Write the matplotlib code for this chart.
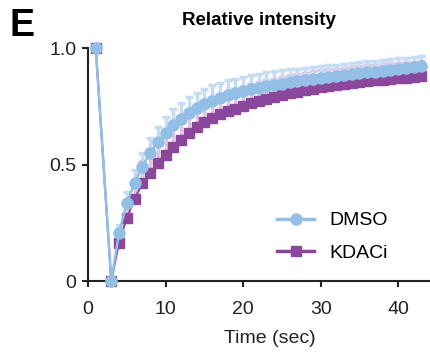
import numpy as np
import matplotlib.pyplot as plt

plt.rcParams['font.family'] = ['Liberation Sans', 'DejaVu Sans']

# tiempos (seg) y valores
tiempo = [1, 3] + list(range(4, 44))

dmso = [1.0, 0.0,
        0.207, 0.335, 0.42, 0.49, 0.55, 0.596, 0.634, 0.668, 0.694, 0.72,
        0.741, 0.758, 0.774, 0.786, 0.797, 0.806, 0.815, 0.823, 0.83, 0.836,
        0.842, 0.847, 0.852, 0.857, 0.862, 0.867, 0.871, 0.875, 0.879, 0.883,
        0.887, 0.891, 0.895, 0.899, 0.903, 0.907, 0.911, 0.914, 0.918, 0.922]
dmso_err = [0.0, 0.0,
            0.035, 0.045, 0.055, 0.06, 0.064, 0.066, 0.068, 0.069, 0.069, 0.069,
            0.068, 0.067, 0.066, 0.065, 0.064, 0.063, 0.062, 0.061, 0.06, 0.059,
            0.058, 0.057, 0.056, 0.055, 0.054, 0.053, 0.052, 0.051, 0.05, 0.05,
            0.049, 0.048, 0.048, 0.047, 0.046, 0.046, 0.045, 0.045, 0.045, 0.045]

kdaci = [1.0, 0.0,
         0.165, 0.27, 0.35, 0.42, 0.465, 0.505, 0.54, 0.574, 0.605, 0.634,
         0.66, 0.684, 0.70, 0.715, 0.728, 0.74, 0.751, 0.762, 0.772, 0.781,
         0.79, 0.797, 0.805, 0.812, 0.819, 0.826, 0.831, 0.836, 0.841, 0.846,
         0.85, 0.854, 0.858, 0.861, 0.864, 0.867, 0.87, 0.873, 0.876, 0.879]
kdaci_err = [0.0, 0.0,
             0.05, 0.07, 0.085, 0.095, 0.1, 0.1, 0.1, 0.098, 0.096, 0.094,
             0.092, 0.09, 0.088, 0.086, 0.085, 0.084, 0.083, 0.082, 0.081, 0.08,
             0.079, 0.078, 0.077, 0.076, 0.075, 0.074, 0.073, 0.072, 0.071, 0.07,
             0.07, 0.069, 0.068, 0.068, 0.067, 0.067, 0.066, 0.066, 0.065, 0.065]

azul = '#93bfe7'
azul_claro = '#c6dcf2'
morado = '#8a479c'
rosa = '#e2c6e2'

fig = plt.figure(figsize=(4.3, 3.54), dpi=100)
ax = fig.add_axes([88 / 430, 73 / 354, 342 / 430, 233 / 354])

ceros = np.zeros(len(tiempo))
ax.errorbar(tiempo, kdaci, yerr=[ceros, kdaci_err], fmt='none', ecolor=rosa,
            elinewidth=2.5, capsize=3.2, capthick=2.5, zorder=1)
ax.errorbar(tiempo, dmso, yerr=[ceros, dmso_err], fmt='none', ecolor=azul_claro,
            elinewidth=2.5, capsize=3.2, capthick=2.5, zorder=2)
ax.plot(tiempo, kdaci, color=morado, lw=1.5, marker='s', ms=7.5, mec=morado,
        label='KDACi', zorder=3, clip_on=False)
ax.plot(tiempo, dmso, color=azul, lw=1.8, marker='o', ms=8, mec=azul,
        label='DMSO', zorder=4, clip_on=False)

ax.set_xlim(0, 44.1)
ax.set_ylim(0, 1.0)
ax.set_xticks([0, 10, 20, 30, 40])
ax.set_yticks([0, 0.5, 1.0])
ax.set_yticklabels(['0', '0.5', '1.0'])
ax.spines['top'].set_visible(False)
ax.spines['right'].set_visible(False)
for s in ['left', 'bottom']:
    ax.spines[s].set_linewidth(1.5)
    ax.spines[s].set_color('#222222')
ax.tick_params(width=1.5, length=4.5, labelsize=14, colors='#222222')
ax.tick_params(axis='x', pad=10)
ax.tick_params(axis='y', pad=4)

ax.set_xlabel('Time (sec)', fontsize=14, color='#222222')
ax.xaxis.set_label_coords(0.532, -0.21)
ax.set_title('Relative intensity', fontsize=13.5, fontweight='bold', pad=16.5)
fig.text(0.022, 0.978, 'E', fontsize=27, fontweight='bold', va='top', ha='left')

h, l = ax.get_legend_handles_labels()
leg = ax.legend(h[::-1], l[::-1], loc='upper left', bbox_to_anchor=(0.53, 0.33),
                frameon=False, fontsize=14, handlelength=1.9, handletextpad=0.8,
                labelspacing=0.75, borderaxespad=0)
for ln in leg.get_lines():
    ln.set_linewidth(2.5)

plt.savefig('out.png', dpi=100)
